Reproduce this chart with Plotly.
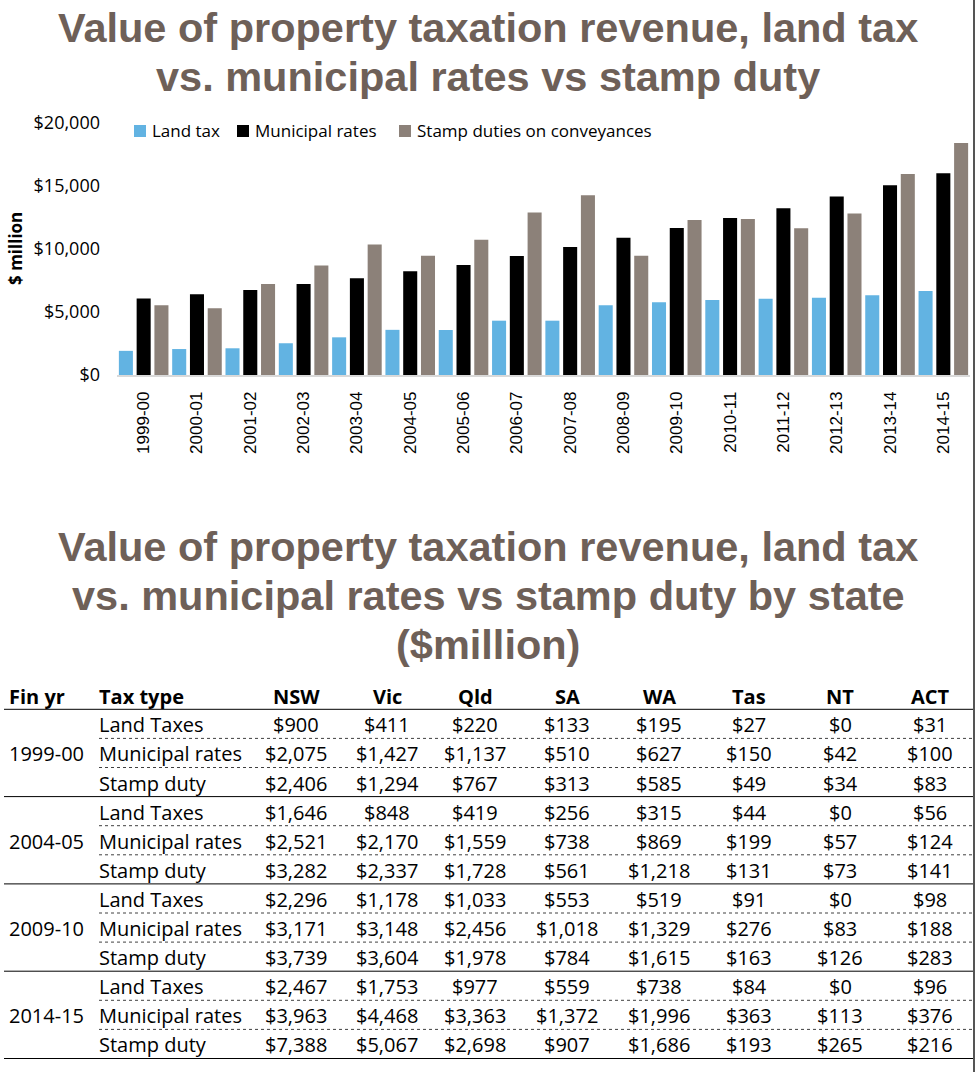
import plotly.graph_objects as go

W, H = 976, 1072

# ---------------- data ----------------
years = ["1999-00", "2000-01", "2001-02", "2002-03", "2003-04", "2004-05", "2005-06", "2006-07",
         "2007-08", "2008-09", "2009-10", "2010-11", "2011-12", "2012-13", "2013-14", "2014-15"]
land_tax = [1917, 2060, 2120, 2520, 2990, 3584, 3570, 4310, 4310, 5530, 5768, 5960, 6060, 6140, 6330, 6674]
municipal_rates = [6068, 6400, 6750, 7220, 7680, 8237, 8730, 9450, 10160, 10900, 11669, 12470, 13230, 14160, 15060, 16014]
stamp_duties = [5531, 5290, 7220, 8700, 10350, 9471, 10740, 12890, 14270, 9470, 12292, 12390, 11650, 12810, 15960, 18420]

series_names = ["Land tax", "Municipal rates", "Stamp duties on conveyances"]
series_colors = ["#62B3E2", "#000000", "#8C8179"]

y_ticks = [0, 5000, 10000, 15000, 20000]
y_tick_labels = ["$0", "$5,000", "$10,000", "$15,000", "$20,000"]

title_top = ["Value of property taxation revenue, land tax",
             "vs. municipal rates vs stamp duty"]
title_bottom = ["Value of property taxation revenue, land tax",
                "vs. municipal rates vs stamp duty by state",
                "($million)"]

table_header = ["Fin yr", "Tax type", "NSW", "Vic", "Qld", "SA", "WA", "Tas", "NT", "ACT"]
table_years = ["1999-00", "2004-05", "2009-10", "2014-15"]
tax_types = ["Land Taxes", "Municipal rates", "Stamp duty"]
rows_1999_00 = [[900, 411, 220, 133, 195, 27, 0, 31],
                [2075, 1427, 1137, 510, 627, 150, 42, 100],
                [2406, 1294, 767, 313, 585, 49, 34, 83]]
rows_2004_05 = [[1646, 848, 419, 256, 315, 44, 0, 56],
                [2521, 2170, 1559, 738, 869, 199, 57, 124],
                [3282, 2337, 1728, 561, 1218, 131, 73, 141]]
rows_2009_10 = [[2296, 1178, 1033, 553, 519, 91, 0, 98],
                [3171, 3148, 2456, 1018, 1329, 276, 83, 188],
                [3739, 3604, 1978, 784, 1615, 163, 126, 283]]
rows_2014_15 = [[2467, 1753, 977, 559, 738, 84, 0, 96],
                [3963, 4468, 3363, 1372, 1996, 363, 113, 376],
                [7388, 5067, 2698, 907, 1686, 193, 265, 216]]
table_groups = [rows_1999_00, rows_2004_05, rows_2009_10, rows_2014_15]

# ---------------- helpers (pixel -> paper) ----------------
def px(x):
    return x / W

def py(y):
    return 1 - y / H

TITLE_COLOR = "#6E6058"
TITLE_FONT = dict(family="Liberation Sans, Arial, sans-serif", size=41.5, color=TITLE_COLOR)
BODY_FONT = "Open Sans, Carlito, Calibri, sans-serif"

fig = go.Figure()
for name, vals, col in zip(series_names, [land_tax, municipal_rates, stamp_duties], series_colors):
    fig.add_trace(go.Bar(x=years, y=vals, name=name, showlegend=False,
                         marker=dict(color=col, line=dict(width=0))))

annotations = []
shapes = []

# titles
for i, line in enumerate(title_top):
    annotations.append(dict(text="<b>%s</b>" % line, x=0.5, y=py(27 + 49 * i), xref="paper", yref="paper",
                            xanchor="center", yanchor="middle", showarrow=False, font=TITLE_FONT))
for i, line in enumerate(title_bottom):
    annotations.append(dict(text="<b>%s</b>" % line, x=0.5, y=py(546 + 49 * i), xref="paper", yref="paper",
                            xanchor="center", yanchor="middle", showarrow=False, font=TITLE_FONT))

# y-axis title
annotations.append(dict(text="<b>$ million</b>", x=px(15), y=py(249), xref="paper", yref="paper",
                        textangle=-90, showarrow=False, xanchor="center", yanchor="middle",
                        font=dict(family=BODY_FONT, size=17, color="#000000")))

# legend (square swatch + label)
legend_x = [134, 237, 399]
for lx, name, col in zip(legend_x, series_names, series_colors):
    shapes.append(dict(type="rect", xref="paper", yref="paper", x0=px(lx), x1=px(lx + 12),
                       y0=py(137), y1=py(125), fillcolor=col, line=dict(width=0)))
    annotations.append(dict(text=name, x=px(lx + 16), y=py(131), xref="paper", yref="paper",
                            xanchor="left", yanchor="middle", showarrow=False,
                            font=dict(family=BODY_FONT, size=17, color="#000000")))

# ---------------- table ----------------
col_centers = [296, 387, 475, 567, 659, 749, 840, 930]
header_y = 696
line0 = 709.3
pitch = 29.1
TABLE_FONT = dict(family=BODY_FONT, size=20, color="#000000")

annotations.append(dict(text="<b>%s</b>" % table_header[0], x=px(7), y=py(header_y), xref="paper", yref="paper",
                        xanchor="left", yanchor="middle", showarrow=False, font=TABLE_FONT))
annotations.append(dict(text="<b>%s</b>" % table_header[1], x=px(97), y=py(header_y), xref="paper", yref="paper",
                        xanchor="left", yanchor="middle", showarrow=False, font=TABLE_FONT))
for cx, h in zip(col_centers, table_header[2:]):
    annotations.append(dict(text="<b>%s</b>" % h, x=px(cx), y=py(header_y), xref="paper", yref="paper",
                            xanchor="center", yanchor="middle", showarrow=False, font=TABLE_FONT))

shapes.append(dict(type="line", xref="paper", yref="paper", x0=px(4), x1=px(973), y0=py(line0), y1=py(line0),
                   line=dict(color="#000000", width=1)))

r = 0
for g, (yr, group) in enumerate(zip(table_years, table_groups)):
    for t, (tt, vals) in enumerate(zip(tax_types, group)):
        yc = line0 + pitch * (r + 0.5) + 1
        if t == 1:
            annotations.append(dict(text=yr, x=px(7), y=py(yc), xref="paper", yref="paper",
                                    xanchor="left", yanchor="middle", showarrow=False, font=TABLE_FONT))
        annotations.append(dict(text=tt, x=px(97), y=py(yc), xref="paper", yref="paper",
                                xanchor="left", yanchor="middle", showarrow=False, font=TABLE_FONT))
        for cx, v in zip(col_centers, vals):
            annotations.append(dict(text="${:,}".format(v), x=px(cx), y=py(yc), xref="paper", yref="paper",
                                    xanchor="center", yanchor="middle", showarrow=False, font=TABLE_FONT))
        r += 1
        yl = line0 + pitch * r
        if t == 2:
            shapes.append(dict(type="line", xref="paper", yref="paper", x0=px(4), x1=px(973), y0=py(yl), y1=py(yl),
                               line=dict(color="#000000", width=1)))
        else:
            shapes.append(dict(type="line", xref="paper", yref="paper", x0=px(99), x1=px(973), y0=py(yl), y1=py(yl),
                               line=dict(color="#404040", width=1, dash="dot")))

# right border
shapes.append(dict(type="line", xref="paper", yref="paper", x0=px(974), x1=px(974), y0=0, y1=1,
                   line=dict(color="#555555", width=2)))

fig.update_layout(
    width=W, height=H, autosize=False,
    margin=dict(l=0, r=0, t=0, b=0, pad=0, autoexpand=False),
    paper_bgcolor="#FFFFFF", plot_bgcolor="#FFFFFF",
    barmode="group", bargap=0.0, bargroupgap=0.21,
    showlegend=False,
    xaxis=dict(domain=[px(117), px(970)], type="category", tickangle=-90, automargin=False,
               tickfont=dict(family="Liberation Sans, Arial, sans-serif", size=17, color="#000000"),
               showline=True, linecolor="#D9D9D9", linewidth=1.5, ticks="", showgrid=False,
               ticklabelstandoff=8, anchor="y"),
    yaxis=dict(domain=[py(375), py(123)], range=[0, 20000], tickvals=y_ticks, ticktext=y_tick_labels,
               automargin=False,
               tickfont=dict(family=BODY_FONT, size=18, color="#000000"), showgrid=False, zeroline=False,
               showline=False, ticks="", ticklabelstandoff=16, anchor="x"),
    annotations=annotations,
    shapes=shapes,
)

post = """
document.documentElement.style.margin='0';
document.body.style.margin='0';
"""
fig.write_html("out.html", post_script=post, config={"displayModeBar": False})
